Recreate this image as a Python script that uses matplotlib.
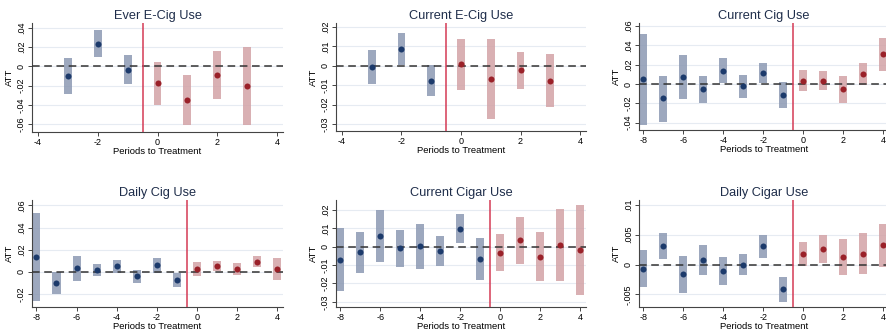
import numpy as np
import matplotlib
matplotlib.use("Agg")
import matplotlib.pyplot as plt

plt.rcParams['font.family'] = ['Liberation Sans', 'DejaVu Sans']

# event-study estimates: period, ATT, CI low, CI high
titles = ["Ever E-Cig Use", "Current E-Cig Use", "Current Cig Use",
          "Daily Cig Use", "Current Cigar Use", "Daily Cigar Use"]

short_periods = [-3, -2, -1, 0, 1, 2, 3]
long_periods = [-8, -7, -6, -5, -4, -3, -2, -1, 0, 1, 2, 3, 4]

ever_ecig_att = [-0.0097, 0.0236, -0.0035, -0.017, -0.035, -0.009, -0.0205]
ever_ecig_lo = [-0.029, 0.0097, -0.018, -0.0396, -0.061, -0.034, -0.061]
ever_ecig_hi = [0.009, 0.0375, 0.0115, 0.005, -0.0094, 0.0156, 0.020]

cur_ecig_att = [-0.0007, 0.0087, -0.0076, 0.0009, -0.0066, -0.0024, -0.0076]
cur_ecig_lo = [-0.0095, 0.0005, -0.0155, -0.0124, -0.0271, -0.0119, -0.0214]
cur_ecig_hi = [0.0079, 0.0169, 0.0002, 0.0138, 0.0138, 0.0071, 0.0061]

cur_cig_att = [0.0048, -0.0148, 0.0072, -0.0055, 0.0131, -0.0024, 0.0117,
               -0.011, 0.0034, 0.0034, -0.0055, 0.0103, 0.0307]
cur_cig_lo = [-0.0424, -0.039, -0.0159, -0.020, 0.0007, -0.0148, 0.0007,
              -0.0245, -0.0075, -0.0065, -0.020, -0.001, 0.0138]
cur_cig_hi = [0.0514, 0.0086, 0.030, 0.0083, 0.0266, 0.0093, 0.0214,
              0.0024, 0.0141, 0.0138, 0.0083, 0.0214, 0.047]

daily_cig_att = [0.0131, -0.0099, 0.0036, 0.0021, 0.0054, -0.0033, 0.0063,
                 -0.0075, 0.003, 0.0054, 0.003, 0.009, 0.003]
daily_cig_lo = [-0.0263, -0.0203, -0.0078, -0.0039, -0.0009, -0.0099, -0.0009,
                -0.0137, -0.0033, 0.0006, -0.003, 0.0042, -0.0069]
daily_cig_hi = [0.0534, 0.0, 0.014, 0.0072, 0.011, 0.0021, 0.0125,
                -0.0009, 0.0087, 0.0101, 0.0084, 0.014, 0.0125]

cur_cigar_att = [-0.007, -0.0031, 0.0058, -0.0009, 0.0004, -0.0023, 0.0097,
                 -0.0065, -0.0032, 0.0034, -0.0054, 0.0009, -0.0016]
cur_cigar_lo = [-0.0241, -0.0142, -0.0085, -0.0108, -0.0119, -0.0105, 0.0018,
                -0.018, -0.0132, -0.0092, -0.0187, -0.0186, -0.0263]
cur_cigar_hi = [0.0099, 0.0079, 0.020, 0.009, 0.0126, 0.0058, 0.0177,
                0.0047, 0.0068, 0.0159, 0.0079, 0.0204, 0.0227]

daily_cigar_att = [-0.0007, 0.0031, -0.0016, 0.0008, -0.0011, 0.0, 0.0031,
                   -0.0041, 0.0017, 0.0026, 0.0013, 0.0018, 0.0032]
daily_cigar_lo = [-0.0038, 0.0009, -0.0047, -0.0017, -0.0034, -0.0018, 0.0011,
                  -0.0062, -0.0003, 0.0002, -0.0017, -0.0015, -0.0004]
daily_cigar_hi = [0.0024, 0.0052, 0.0015, 0.0032, 0.0013, 0.0017, 0.005,
                  -0.0021, 0.0038, 0.0049, 0.0043, 0.0052, 0.0068]

# y ticks and Stata-style labels for each panel
yticks_list = [[0.04, 0.02, 0, -0.02, -0.04, -0.06],
               [0.02, 0.01, 0, -0.01, -0.02, -0.03],
               [0.06, 0.04, 0.02, 0, -0.02, -0.04],
               [0.06, 0.04, 0.02, 0, -0.02],
               [0.02, 0.01, 0, -0.01, -0.02, -0.03],
               [0.01, 0.005, 0, -0.005]]
ylabels_list = [[".04", ".02", "0", "-.02", "-.04", "-.06"],
                [".02", ".01", "0", "-.01", "-.02", "-.03"],
                [".06", ".04", ".02", "0", "-.02", "-.04"],
                [".06", ".04", ".02", "0", "-.02"],
                [".02", ".01", "0", "-.01", "-.02", "-.03"],
                [".01", ".005", "0", "-.005"]]
ylims = [(-0.068, 0.045), (-0.0335, 0.022), (-0.0475, 0.063),
         (-0.0316, 0.0648), (-0.0328, 0.0254), (-0.0071, 0.0108)]
xticks_short = [-4, -2, 0, 2, 4]
xticks_long = [-8, -6, -4, -2, 0, 2, 4]

panels = [
    (short_periods, ever_ecig_att, ever_ecig_lo, ever_ecig_hi),
    (short_periods, cur_ecig_att, cur_ecig_lo, cur_ecig_hi),
    (long_periods, cur_cig_att, cur_cig_lo, cur_cig_hi),
    (long_periods, daily_cig_att, daily_cig_lo, daily_cig_hi),
    (long_periods, cur_cigar_att, cur_cigar_lo, cur_cigar_hi),
    (long_periods, daily_cigar_att, daily_cigar_lo, daily_cigar_hi),
]

W, H = 887, 336
# axes boxes in pixels: left, top, width, height
boxes = [(32, 23, 251, 109), (336, 23, 250, 108), (639, 23, 250, 107),
         (32, 200, 251, 107), (336, 200, 250, 107), (639, 200, 250, 107)]

fig = plt.figure(figsize=(W / 100, H / 100), dpi=100)

blue_ci = "#8c99b3"
blue_pt = "#1c3a6b"
red_ci = "#d3a3a6"
red_pt = "#9a2129"

for i in range(6):
    l, t, w, h = boxes[i]
    ax = fig.add_axes([l / W, (H - t - h) / H, w / W, h / H])
    periods, att, lo, hi = panels[i]
    periods = np.array(periods)
    att = np.array(att)
    lo = np.array(lo)
    hi = np.array(hi)
    pre = periods < 0
    post = ~pre
    bw = 0.26 if len(periods) == 7 else 0.4

    ax.bar(periods[pre], hi[pre] - lo[pre], bottom=lo[pre], width=bw,
           color=blue_ci, alpha=0.85, zorder=2)
    ax.bar(periods[post], hi[post] - lo[post], bottom=lo[post], width=bw,
           color=red_ci, alpha=0.85, zorder=2)
    ax.scatter(periods[pre], att[pre], s=19, color=blue_pt, zorder=4,
               linewidths=0)
    ax.scatter(periods[post], att[post], s=19, color=red_pt, zorder=4,
               linewidths=0)

    ax.axhline(0, color="#333333", linestyle=(0, (5, 3)), linewidth=1.1, zorder=3)
    ax.axvline(-0.5, color="#d43a55", linewidth=1.1, zorder=3)

    if len(periods) == 7:
        ax.set_xlim(-4.2, 4.2)
        ax.set_xticks(xticks_short)
    else:
        ax.set_xlim(-8.22, 4.28)
        ax.set_xticks(xticks_long)
    ax.set_xticklabels([str(v) for v in ax.get_xticks().astype(int)])
    ax.set_ylim(*ylims[i])
    ax.set_yticks(yticks_list[i])
    ax.set_yticklabels(ylabels_list[i], rotation=90, va="center")

    ax.grid(axis="y", color="#e6ebf2", linewidth=0.8, zorder=0)
    ax.set_axisbelow(True)
    for s in ["top", "right"]:
        ax.spines[s].set_visible(False)
    for s in ["left", "bottom"]:
        ax.spines[s].set_color("#444444")
        ax.spines[s].set_linewidth(0.8)
    ax.tick_params(axis="both", labelsize=6.5, length=3, width=0.7,
                   color="#444444", pad=1.5)
    ax.set_title(titles[i], fontsize=9.2, color="#1e2d4a", pad=3)
    ax.set_xlabel("Periods to Treatment", fontsize=6.8, labelpad=0)
    ax.set_ylabel("ATT", fontsize=6.8, labelpad=2)

fig.savefig("out.png", dpi=100)
